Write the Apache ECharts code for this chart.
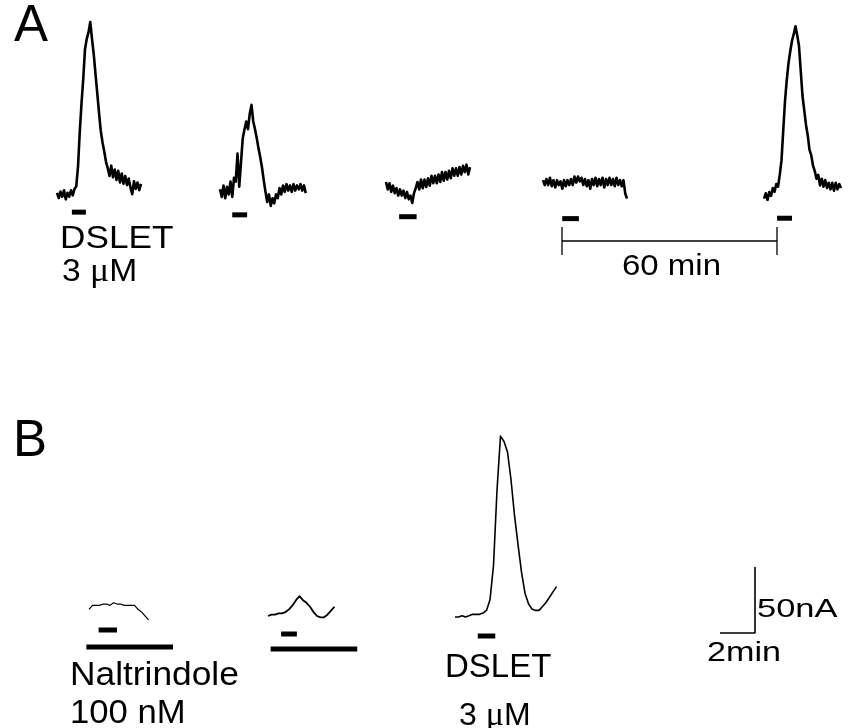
<!DOCTYPE html>
<html>
<head>
<meta charset="utf-8">
<script src="https://cdn.jsdelivr.net/npm/echarts@6/dist/echarts.min.js"></script>
<style>
  html, body { margin: 0; padding: 0; background: #fff; }
  #chart { width: 850px; height: 728px; }
</style>
</head>
<body>
<div id="chart"></div>
<script>
// Sampling step of the recordings, minutes
const stepA = 0.1;
const stepB = 0.2;

// Panel A: currents (nA above baseline) evoked by repeated DSLET 3 µM applications, 60 min apart
const a1Current = [1,-3,2,-2,3,-4,1,-2,3,-1,4,6,21,48,70,89,112,120,125,133,120,108,93,78,63,49,40,33,25,20,14,22,13,19,11,18,9,16,8,14,7,12,5,0,10,4,9,3,8];
const a2Current = [2,-4,5,-5,4,-2,8,-4,11,8,30,4,23,42,49,55,49,61,68,55,49,42,34,27,19,9,0,-8,-2,-11,-5,-9,-2,-5,3,-2,5,0,6,1,5,0,6,1,5,2,6,1,5,-1];
const a3Current = [3,-3,2,-5,0,-6,-2,-8,-3,-8,-4,-10,-5,-11,-8,-14,-6,-2,3,-3,5,-2,5,-1,6,0,8,2,8,2,9,3,11,4,11,5,12,6,14,8,14,8,15,9,16,11,17,9,15];
const a4Current = [2,-2,3,-2,4,-3,2,-4,2,-2,1,-5,2,-3,2,-2,3,-2,5,0,5,1,4,-2,3,-3,2,-5,3,-2,4,-3,3,-2,4,-4,3,-2,4,-2,3,-3,4,-2,2,-3,2,-9,-13];
const a5Current = [-1,3,-2,4,1,7,4,10,8,17,28,51,73,89,102,111,119,124,130,123,115,96,77,66,55,47,36,32,24,20,14,17,9,14,8,13,7,11,6,11,5,11,6,10,7];

// Panel B: DSLET in the presence of naltrindole 100 nM, then DSLET alone
const b1Current = [-1,2,2,2,3,3,2,4,3,3,2,2,2,2,-1,-3,-6,-9];
const b2Current = [0,1,1,2,2,3,5,8,12,15,12,10,7,3,0,-1,-1,1,4,7];
const b3Current = [0,0,1,0,1,2,2,2,3,5,13,39,96,137,133,125,104,77,55,34,18,10,6,5,5,8,11,15,19,23];

// Drug application windows, [start, end] in minutes from the start of each recording
const a1Dslet = [0.85, 1.65];
const a2Dslet = [0.7, 1.55];
const a3Dslet = [0.75, 1.75];
const a4Dslet = [1.1, 2.05];
const a5Dslet = [0.75, 1.6];
const b1Dslet = [0.55, 1.6];
const b1Naltrindole = [-0.15, 4.8];
const b2Dslet = [0.75, 1.65];
const b2Naltrindole = [0.15, 5.1];
const b3Dslet = [1.3, 2.3];

// Calibration bars
const scaleTime = 2;         // min
const scaleCurrent = 50;     // nA
const intervalMinutes = 60;  // time between applications in A

// Drawing scale shared by every recording
const PX_PER_MIN = 17.5;
const PX_PER_NA = 1.32;
const Y_MIN = -45, Y_MAX = 150;
const FONT = '"Liberation Sans", Arial, Helvetica, sans-serif';
const SERIF = '"Liberation Serif", "Times New Roman", serif';

// Where each recording sits on the page: left = x of t=0, base = y of 0 nA
const recordings = [
  { values: a1Current, step: stepA, left: 57,  base: 193, lw: 2.6, bars: [{ win: a1Dslet, drop: 18, h: 5 }] },
  { values: a2Current, step: stepA, left: 220, base: 190, lw: 2.6, bars: [{ win: a2Dslet, drop: 23, h: 5 }] },
  { values: a3Current, step: stepA, left: 386, base: 182, lw: 2.6, bars: [{ win: a3Dslet, drop: 31, h: 5 }] },
  { values: a4Current, step: stepA, left: 543, base: 178, lw: 2.6, bars: [{ win: a4Dslet, drop: 36, h: 5 }] },
  { values: a5Current, step: stepA, left: 764, base: 197, lw: 2.6, bars: [{ win: a5Dslet, drop: 21, h: 5 }] },
  { values: b1Current, step: stepB, left: 89,  base: 608, lw: 1.2, bars: [{ win: b1Dslet, drop: 22, h: 5 }, { win: b1Naltrindole, drop: 39, h: 5 }] },
  { values: b2Current, step: stepB, left: 268, base: 616, lw: 1.8, bars: [{ win: b2Dslet, drop: 18, h: 5 }, { win: b2Naltrindole, drop: 33, h: 5 }] },
  { values: b3Current, step: stepB, left: 455, base: 617, lw: 1.6, bars: [{ win: b3Dslet, drop: 19, h: 5 }] }
];

const grids = [], xAxes = [], yAxes = [], series = [];

function addGrid(g, xr, yr) {
  const i = grids.length;
  grids.push(Object.assign({ containLabel: false, show: false }, g));
  xAxes.push({ type: 'value', gridIndex: i, min: xr[0], max: xr[1], show: false });
  yAxes.push({ type: 'value', gridIndex: i, min: yr[0], max: yr[1], show: false });
  return i;
}

recordings.forEach(function (r) {
  const dur = (r.values.length - 1) * r.step;
  let xmin = 0, xmax = dur;
  r.bars.forEach(function (b) { xmin = Math.min(xmin, b.win[0]); xmax = Math.max(xmax, b.win[1]); });
  const idx = addGrid({
    left: r.left + xmin * PX_PER_MIN,
    width: (xmax - xmin) * PX_PER_MIN,
    top: r.base - Y_MAX * PX_PER_NA,
    height: (Y_MAX - Y_MIN) * PX_PER_NA
  }, [xmin, xmax], [Y_MIN, Y_MAX]);

  series.push({
    type: 'line', xAxisIndex: idx, yAxisIndex: idx,
    data: r.values.map(function (v, k) { return [k * r.step, v]; }),
    showSymbol: false, clip: false, silent: true,
    lineStyle: { color: '#000', width: r.lw, join: 'round' }
  });

  r.bars.forEach(function (b) {
    series.push({
      type: 'custom', xAxisIndex: idx, yAxisIndex: idx, clip: false, silent: true,
      data: [[b.win[0], b.win[1], 0]],
      encode: { x: [0, 1], y: 2 },
      renderItem: function (params, api) {
        const p0 = api.coord([api.value(0), api.value(2)]);
        const p1 = api.coord([api.value(1), api.value(2)]);
        return {
          type: 'rect',
          shape: { x: p0[0], y: p0[1] + b.drop - b.h / 2, width: p1[0] - p0[0], height: b.h },
          style: { fill: '#000' }
        };
      }
    });
  });
});

// 2 min / 50 nA calibration
const calIdx = addGrid({
  left: 720, top: 567,
  width: scaleTime * PX_PER_MIN, height: scaleCurrent * PX_PER_NA
}, [0, scaleTime], [0, scaleCurrent]);
series.push({
  type: 'line', xAxisIndex: calIdx, yAxisIndex: calIdx, clip: false, silent: true, showSymbol: false,
  data: [[0, 0], [scaleTime, 0], [scaleTime, scaleCurrent]],
  lineStyle: { color: '#000', width: 1.6 }
});

// 60 min interval bar with end ticks
const ivIdx = addGrid({ left: 562, top: 227, width: 215, height: 28 }, [0, intervalMinutes], [-1, 1]);
[
  [[0, 0], [intervalMinutes, 0]],
  [[0, 1], [0, -1]],
  [[intervalMinutes, 1], [intervalMinutes, -1]]
].forEach(function (seg) {
  series.push({
    type: 'line', xAxisIndex: ivIdx, yAxisIndex: ivIdx, clip: false, silent: true, showSymbol: false,
    data: seg, lineStyle: { color: '#000', width: 1.3 }
  });
});

function label(text, x, y, size, sx, rich) {
  return {
    type: 'text', x: x, y: y, scaleX: sx || 1, scaleY: 1, silent: true,
    style: {
      text: text, font: size + 'px ' + FONT, fill: '#000',
      textAlign: 'left', textVerticalAlign: 'middle', align: 'left', verticalAlign: 'middle',
      rich: rich
    }
  };
}

// Greek mu set in a serif face
function muRich(size) {
  return { mu: { fontFamily: SERIF, fontSize: size + 2, fill: '#000' } };
}

const chart = echarts.init(document.getElementById('chart'), null, { renderer: 'canvas' });
chart.setOption({
  backgroundColor: '#fff',
  animation: false,
  grid: grids,
  xAxis: xAxes,
  yAxis: yAxes,
  series: series,
  graphic: [
    label('A', 14, 27, 51),
    label('B', 13, 442, 51),
    label('DSLET', 60, 239, 32, 1.1),
    label('3 {mu|\u03BC}M', 62, 272, 32, 1.05, muRich(32)),
    label('60 min', 622, 267, 30, 1.1),
    label('Naltrindole', 70, 676, 33, 1.07),
    label('100 nM', 70, 714, 33, 1.05),
    label('DSLET', 445, 668, 33, 1.0),
    label('3 {mu|\u03BC}M', 459, 716, 32, 1.0, muRich(32)),
    label('50nA', 757, 610, 25, 1.38),
    label('2min', 707, 653, 28, 1.22)
  ]
});
</script>
</body>
</html>
